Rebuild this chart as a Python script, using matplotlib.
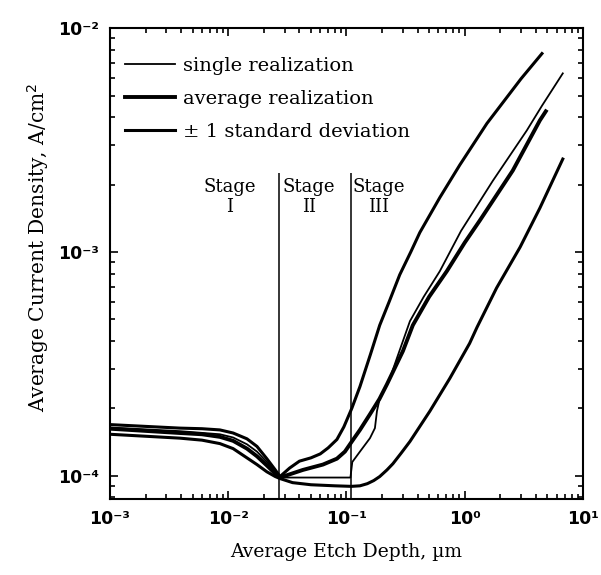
import matplotlib
matplotlib.use('Agg')
import matplotlib.pyplot as plt

# etch depth (um) / current density (A/cm2)
single_x = [0.001, 0.0039, 0.0085, 0.011, 0.0144, 0.0175, 0.0212, 0.025, 0.0274,
            0.05, 0.08, 0.108, 0.112, 0.130, 0.158, 0.174, 0.181, 0.191, 0.233,
            0.267, 0.344, 0.45, 0.616, 0.93, 1.73, 3.35, 4.5, 6.75]
single_y = [1.64e-4, 1.58e-4, 1.53e-4, 1.48e-4, 1.38e-4, 1.28e-4, 1.15e-4, 1.04e-4,
            9.8e-5, 9.8e-5, 9.8e-5, 9.8e-5, 1.15e-4, 1.28e-4, 1.47e-4, 1.63e-4,
            1.94e-4, 2.21e-4, 2.72e-4, 3.35e-4, 4.9e-4, 6.3e-4, 8.2e-4, 1.24e-3,
            2.08e-3, 3.49e-3, 4.5e-3, 6.28e-3]

avg_x = [0.001, 0.0039, 0.006, 0.0085, 0.011, 0.0144, 0.0175, 0.0212, 0.025, 0.0274,
         0.0428, 0.0632, 0.083, 0.097, 0.111, 0.13, 0.158, 0.19, 0.22, 0.30,
         0.364, 0.5, 0.706, 1.0, 1.34, 2.55, 4.32, 4.85]
avg_y = [1.62e-4, 1.55e-4, 1.53e-4, 1.49e-4, 1.43e-4, 1.32e-4, 1.22e-4, 1.11e-4, 1.02e-4,
         9.8e-5, 1.06e-4, 1.12e-4, 1.19e-4, 1.28e-4, 1.42e-4, 1.6e-4, 1.88e-4,
         2.2e-4, 2.56e-4, 3.6e-4, 4.7e-4, 6.3e-4, 8.2e-4, 1.1e-3, 1.38e-3,
         2.31e-3, 3.87e-3, 4.25e-3]

upper_x = [0.001, 0.0039, 0.006, 0.0085, 0.011, 0.0144, 0.0175, 0.0212, 0.025, 0.0274,
           0.033, 0.040, 0.050, 0.060, 0.070, 0.083, 0.095, 0.111, 0.13, 0.16,
           0.191, 0.23, 0.282, 0.35, 0.417, 0.616, 0.91, 1.54, 2.2, 3.0, 4.5]
upper_y = [1.69e-4, 1.63e-4, 1.62e-4, 1.60e-4, 1.55e-4, 1.46e-4, 1.35e-4, 1.19e-4, 1.06e-4,
           9.9e-5, 1.08e-4, 1.16e-4, 1.2e-4, 1.25e-4, 1.33e-4, 1.45e-4, 1.65e-4,
           2.0e-4, 2.5e-4, 3.5e-4, 4.7e-4, 6.0e-4, 7.9e-4, 1.0e-3, 1.22e-3,
           1.75e-3, 2.45e-3, 3.75e-3, 4.8e-3, 5.95e-3, 7.7e-3]

lower_x = [0.001, 0.0039, 0.006, 0.0085, 0.011, 0.0144, 0.0175, 0.0212, 0.025, 0.0274,
           0.035, 0.05, 0.08, 0.11, 0.13, 0.15, 0.17, 0.191, 0.22, 0.247, 0.29,
           0.344, 0.507, 0.748, 1.1, 1.27, 1.86, 2.94, 4.32, 6.75]
lower_y = [1.53e-4, 1.47e-4, 1.44e-4, 1.39e-4, 1.32e-4, 1.20e-4, 1.12e-4, 1.04e-4, 9.9e-5,
           9.7e-5, 9.3e-5, 9.1e-5, 9.0e-5, 8.95e-5, 9.0e-5, 9.2e-5, 9.5e-5,
           9.9e-5, 1.06e-4, 1.13e-4, 1.26e-4, 1.42e-4, 1.94e-4, 2.72e-4, 3.9e-4,
           4.6e-4, 6.9e-4, 1.05e-3, 1.57e-3, 2.6e-3]

stage_bounds = [0.027, 0.11]
stage_names = ['Stage\nI', 'Stage\nII', 'Stage\nIII']
stage_label_x = [0.0103, 0.048, 0.188]

xticks = [1e-3, 1e-2, 1e-1, 1e0, 1e1]
xticklabels = ['10⁻³', '10⁻²', '10⁻¹', '10⁰', '10¹']
yticks = [1e-4, 1e-3, 1e-2]
yticklabels = ['10⁻⁴', '10⁻³', '10⁻²']

serif = 'DejaVu Serif'

fig = plt.figure(figsize=(6.01, 5.75), dpi=100)
ax = fig.add_axes([0.183, 0.132, 0.787, 0.819])
ax.set_xscale('log')
ax.set_yscale('log')
ax.set_xlim(1e-3, 1e1)
ax.set_ylim(7.85e-5, 1e-2)

ax.plot(single_x, single_y, color='black', lw=1.3, label='single realization')
ax.plot(avg_x, avg_y, color='black', lw=2.8, label='average realization')
ax.plot(upper_x, upper_y, color='black', lw=2.2, label='± 1 standard deviation')
ax.plot(lower_x, lower_y, color='black', lw=2.2)

ax.vlines(stage_bounds, 7.85e-5, 2.25e-3, color='black', lw=1.1)
for sx, name in zip(stage_label_x, stage_names):
    ax.text(sx, 2.15e-3, name, ha='center', va='top', fontsize=13,
            family=serif, linespacing=1.15)

leg = ax.legend(loc='upper left', bbox_to_anchor=(0.015, 0.955), frameon=False,
                handlelength=2.6, handletextpad=0.4, labelspacing=0.76,
                borderaxespad=0, prop={'family': serif, 'size': 14})

ax.set_xticks(xticks)
ax.set_xticklabels(xticklabels, fontsize=12.5, fontweight='bold', family='DejaVu Sans')
ax.set_yticks(yticks)
ax.set_yticklabels(yticklabels, fontsize=12.5, fontweight='bold', family='DejaVu Sans')

ax.tick_params(which='both', direction='in', top=True, right=True, width=1.2)
ax.tick_params(which='major', length=6, pad=8)
ax.tick_params(which='minor', length=3.5)
for s in ax.spines.values():
    s.set_linewidth(1.5)

ax.set_xlabel('Average Etch Depth, µm', family=serif, fontsize=13.5, labelpad=11)
ax.set_ylabel('Average Current Density, A/cm$^2$', family=serif, fontsize=14.5)
ax.yaxis.set_label_coords(-0.125, 0.535)

plt.savefig('out.png', dpi=100)
